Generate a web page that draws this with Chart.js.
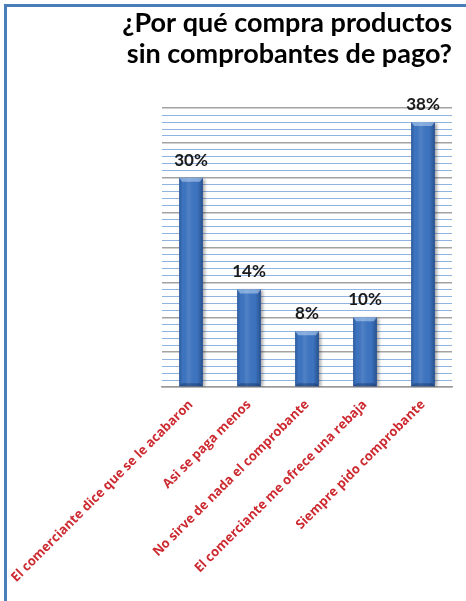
<!DOCTYPE html>
<html>
<head>
<meta charset="utf-8">
<script src="https://cdn.jsdelivr.net/npm/chart.js@4.4.0/dist/chart.umd.min.js"></script>
<style>
  html, body { margin: 0; padding: 0; background: #fff; }
  #wrap { position: relative; width: 466px; height: 601px; overflow: hidden; }
  #frame {
    position: absolute; left: 4px; top: 4px; width: 480px; height: 620px;
    border-left: 3px solid #4a7ebb; border-top: 3px solid #4a7ebb;
    pointer-events: none;
  }
</style>
</head>
<body>
<div id="wrap">
  <canvas id="chart" width="466" height="601"></canvas>
  <div id="frame"></div>
</div>
<script>
var titleLines = ['¿Por qué compra productos', 'sin comprobantes de pago?'];
var reasons = [
    'El comerciante dice que se le acabaron',
    'Asi se paga menos',
    'No sirve de nada el comprobante',
    'El comerciante me ofrece una rebaja',
    'Siempre pido comprobante'
];
var percents = [30, 14, 8, 10, 38];

// value labels over each bar ("30%")
var valueLabels = {
    id: 'valueLabels',
    afterDatasetsDraw: function (chart) {
        var ctx = chart.ctx;
        var meta = chart.getDatasetMeta(0);
        ctx.save();
        ctx.font = 'bold 17px Lato';
        ctx.fillStyle = '#1a1a1a';
        ctx.textAlign = 'center';
        ctx.textBaseline = 'alphabetic';
        meta.data.forEach(function (bar, i) {
            ctx.fillText(percents[i] + '%', bar.x, bar.y - 12);
        });
        ctx.restore();
    }
};

// shadow under the bars plus a little bevel shading on top of them
var barBevel = {
    id: 'barBevel',
    beforeDatasetDraw: function (chart) {
        var ctx = chart.ctx;
        ctx.save();
        ctx.shadowColor = 'rgba(0,0,0,0.35)';
        ctx.shadowBlur = 3;
        ctx.shadowOffsetX = 2;
        ctx.shadowOffsetY = 1;
    },
    afterDatasetDraw: function (chart) {
        var ctx = chart.ctx;
        ctx.restore();
        var meta = chart.getDatasetMeta(0);
        ctx.save();
        meta.data.forEach(function (bar) {
            var left = bar.x - bar.width / 2;
            var right = bar.x + bar.width / 2;
            var top = bar.y;
            var bottom = bar.base;
            var g = ctx.createLinearGradient(left, 0, right, 0);
            g.addColorStop(0, 'rgba(10,30,70,0.30)');
            g.addColorStop(0.15, 'rgba(10,30,70,0.0)');
            g.addColorStop(0.4, 'rgba(255,255,255,0.10)');
            g.addColorStop(0.75, 'rgba(10,30,70,0.0)');
            g.addColorStop(1, 'rgba(10,30,70,0.40)');
            ctx.fillStyle = g;
            ctx.fillRect(left, top, right - left, bottom - top);
            // lighter cap at the top
            ctx.fillStyle = 'rgba(190,215,245,0.55)';
            ctx.beginPath();
            ctx.moveTo(left, top);
            ctx.lineTo(right, top);
            ctx.lineTo(right - 3, top + 4);
            ctx.lineTo(left + 3, top + 4);
            ctx.closePath();
            ctx.fill();
            // darker foot
            ctx.fillStyle = 'rgba(10,30,70,0.35)';
            ctx.beginPath();
            ctx.moveTo(left, bottom);
            ctx.lineTo(right, bottom);
            ctx.lineTo(right - 3, bottom - 3);
            ctx.lineTo(left + 3, bottom - 3);
            ctx.closePath();
            ctx.fill();
        });
        ctx.restore();
    }
};

new Chart(document.getElementById('chart'), {
    type: 'bar',
    data: {
        labels: reasons,
        datasets: [{
            data: percents,
            backgroundColor: '#3d74c0',
            borderWidth: 0,
            barPercentage: 0.41,
            categoryPercentage: 1
        }]
    },
    options: {
        responsive: false,
        animation: false,
        layout: { padding: { left: 0, right: 14, top: 0, bottom: 0 } },
        plugins: {
            legend: { display: false },
            tooltip: { enabled: false },
            title: {
                display: true,
                text: titleLines,
                align: 'end',
                color: '#000',
                font: { family: 'Lato', size: 27, weight: 'bold', lineHeight: 1.15 },
                padding: { top: 8, bottom: 38 }
            }
        },
        scales: {
            x: {
                grid: { display: false },
                border: { display: true, color: '#9a9a9a', width: 1.5 },
                afterFit: function (scale) {
                    scale.height = 214;
                    scale.paddingLeft = 0;
                    scale.paddingRight = 0;
                },
                ticks: {
                    color: '#cc2a30',
                    font: { family: 'Open Sans', size: 13, weight: 'bold' },
                    minRotation: 45,
                    maxRotation: 45,
                    padding: 2,
                    autoSkip: false
                }
            },
            y: {
                min: 0,
                max: 40,
                border: { display: false },
                afterFit: function (scale) { scale.width = 162; },
                ticks: { display: false, stepSize: 1 },
                grid: {
                    drawTicks: false,
                    color: function (c) { return c.tick.value % 5 === 0 ? '#a3a3a3' : '#8fb4e0'; },
                    lineWidth: function (c) { return c.tick.value % 5 === 0 ? 1.5 : 1; }
                }
            }
        }
    },
    plugins: [barBevel, valueLabels]
});
</script>
</body>
</html>
